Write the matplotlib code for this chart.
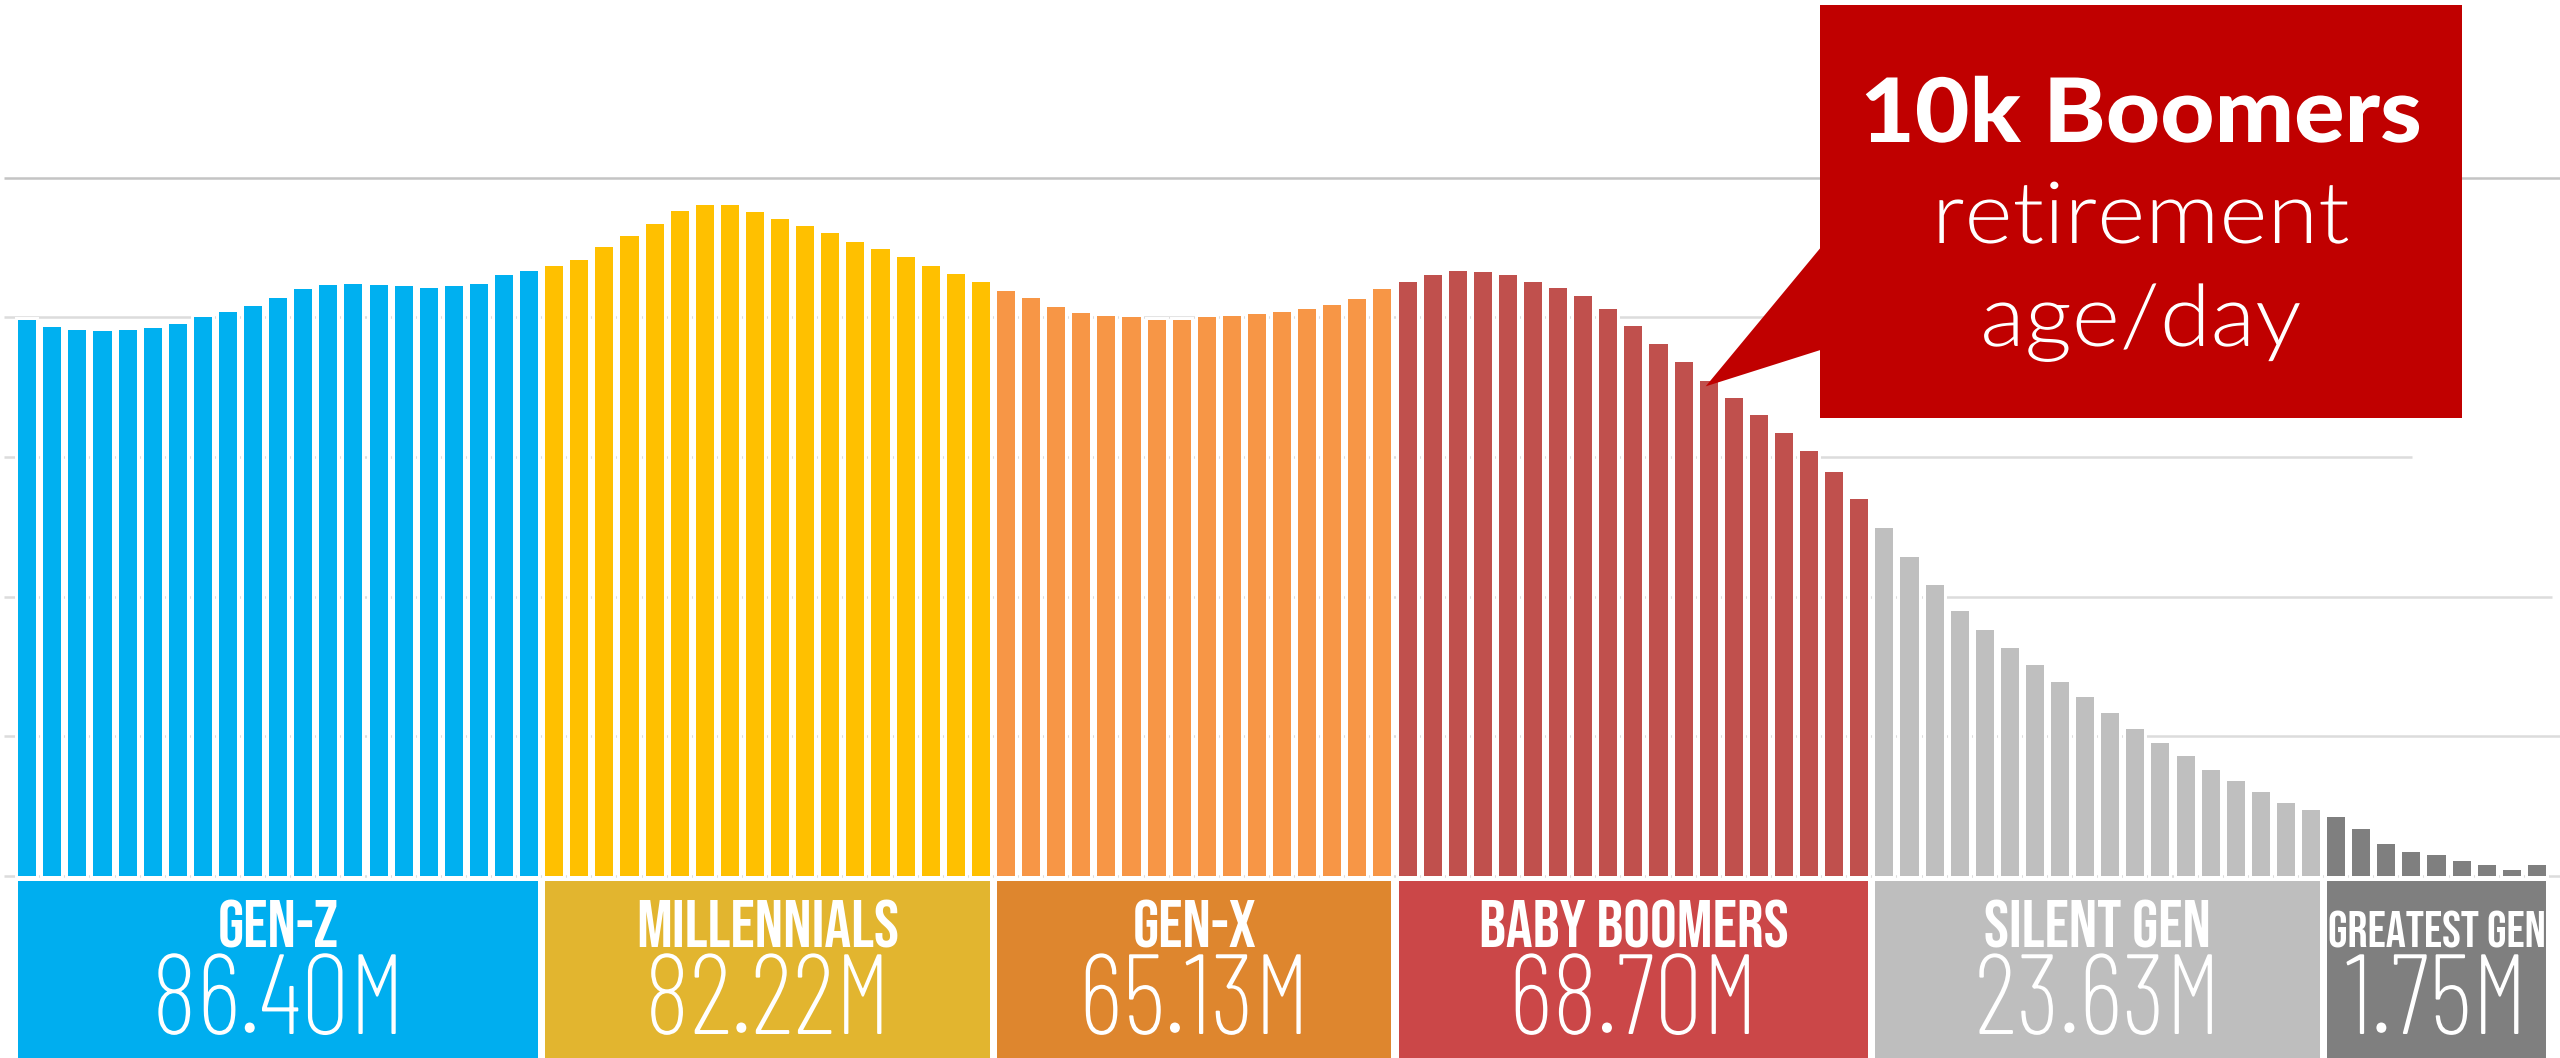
import matplotlib
matplotlib.use("Agg")
import matplotlib.pyplot as plt
from matplotlib.patches import Rectangle, Polygon
from matplotlib.patheffects import AbstractPathEffect
from matplotlib.transforms import Affine2D

# US resident population by single year of age (millions), youngest first
gen_z = [3.98, 3.93, 3.91, 3.90, 3.91, 3.92, 3.95, 4.00, 4.04, 4.08, 4.14,
         4.20, 4.23, 4.24, 4.23, 4.22, 4.21, 4.22, 4.24, 4.30, 4.33]
millennials = [4.37, 4.41, 4.50, 4.58, 4.67, 4.76, 4.80, 4.80, 4.75, 4.70,
               4.65, 4.60, 4.54, 4.49, 4.43, 4.37, 4.31, 4.25]
gen_x = [4.19, 4.14, 4.07, 4.03, 4.01, 4.00, 3.98, 3.98, 4.00, 4.01, 4.02,
         4.04, 4.06, 4.09, 4.13, 4.20]
boomers = [4.25, 4.30, 4.33, 4.32, 4.30, 4.25, 4.21, 4.15, 4.06, 3.94, 3.81,
           3.68, 3.54, 3.42, 3.30, 3.17, 3.04, 2.89, 2.70]
silent = [2.49, 2.28, 2.08, 1.90, 1.76, 1.63, 1.51, 1.39, 1.28, 1.17, 1.05,
          0.95, 0.86, 0.76, 0.68, 0.60, 0.52, 0.47]
greatest = [0.42, 0.34, 0.23, 0.17, 0.15, 0.11, 0.08, 0.04, 0.08]

generations = ["GEN-Z", "MILLENNIALS", "GEN-X", "BABY BOOMERS", "SILENT GEN", "GREATEST GEN"]
totals = [86.40, 82.22, 65.13, 68.70, 23.63, 1.75]
series = [gen_z, millennials, gen_x, boomers, silent, greatest]
gridlines = [0, 1, 2, 3, 4, 5]

bar_colors = ["#00B0F0", "#FFC000", "#F79646", "#C0504D", "#BFBFBF", "#7F7F7F"]
box_colors = ["#00AEEF", "#E2B52F", "#DE862E", "#CB4748", "#BEBEBE", "#7F7F7F"]
callout_red = "#C00000"

W, H, DPI = 2560, 1058, 100
X0_PX, PITCH_PX = 27.2, 25.097      # centre of first bar, bar spacing
BASE_PX, UNIT_PX = 876.0, 139.7     # baseline row, pixels per million


def dx(px):
    return (px - X0_PX) / PITCH_PX


def dy(py):
    return (BASE_PX - py) / UNIT_PX


class Condense(AbstractPathEffect):
    """Rescale glyphs horizontally about the centre of the string."""

    def __init__(self, sx):
        super().__init__()
        self.sx = sx

    def draw_path(self, renderer, gc, tpath, affine, rgbFace=None):
        ext = tpath.get_extents()
        cx = 0.5 * (ext.x0 + ext.x1)
        t = Affine2D().translate(-cx, 0).scale(self.sx, 1).translate(cx, 0) + affine
        renderer.draw_path(gc, tpath, t, rgbFace)


fig = plt.figure(figsize=(W / DPI, H / DPI), dpi=DPI)
ax = fig.add_axes([0, 0, 1, 1])
ax.set_xlim(dx(0), dx(W))
ax.set_ylim(dy(H), dy(0))
ax.axis("off")

# horizontal guides
grid_right = {0: 2560, 1: 2560, 2: 2552, 3: 2412, 4: 2400, 5: 2560}
for g in gridlines:
    ax.plot([dx(4), dx(grid_right[g])], [g, g],
            color="#C4C4C4" if g == 5 else "#DCDCDC", lw=1.8,
            solid_capstyle="butt", zorder=1)

# bars, each with a thin white halo that knocks out the guides behind it
BAR_W = 0.72
start = 0
spans = []
for vals, col in zip(series, bar_colors):
    xs = list(range(start, start + len(vals)))
    ax.bar(xs, vals, width=BAR_W, color="white", edgecolor="white",
           linewidth=4.3, zorder=2)
    ax.bar(xs, vals, width=BAR_W, color=col, linewidth=0, zorder=3)
    spans.append((xs[0], xs[-1]))
    start += len(vals)

# generation label blocks
box_top = dy(881)
for (i0, i1), name, tot, col in zip(spans, generations, totals, box_colors):
    left = i0 - BAR_W / 2
    right = i1 + BAR_W / 2
    ax.add_patch(Rectangle((left, dy(H + 20)), right - left, box_top - dy(H + 20),
                           facecolor=col, edgecolor="none", zorder=3))
    cx = 0.5 * (left + right)
    small = name == "GREATEST GEN"
    ax.text(cx, dy(947), name, ha="center", va="baseline", color="white",
            family=["Bebas Neue", "Roboto Condensed", "DejaVu Sans"],
            fontsize=36 if small else 48, zorder=4)
    ax.text(cx, dy(1034), f"{tot:.2f}M", ha="center", va="baseline", color="white",
            family=["Barlow Condensed", "Roboto Condensed", "DejaVu Sans"],
            fontweight=275, fontsize=82, zorder=4,
            path_effects=[Condense(0.96)])

# callout pointing at the Boomers now reaching retirement age
all_vals = [v for s in series for v in s]
target = 67
tip = (target - 0.12, all_vals[target] - 0.035)
ax.add_patch(Rectangle((dx(1820), dy(417.7)), dx(2462) - dx(1820), dy(5) - dy(417.7),
                       facecolor=callout_red, edgecolor="none", zorder=5))
ax.add_patch(Polygon([(dx(1822), dy(246)), tip, (dx(1822), dy(349.5))],
                     closed=True, facecolor=callout_red, edgecolor="none", zorder=5))
ccx = dx(2141)
ax.text(ccx, dy(142), "10k Boomers", ha="center", va="baseline", color="white",
        family=["Lato", "DejaVu Sans"], fontweight=900, fontsize=64, zorder=6,
        path_effects=[Condense(1.06)])
ax.text(ccx, dy(243), "retirement", ha="center", va="baseline", color="white",
        family=["Lato", "DejaVu Sans"], fontweight=300, fontsize=62, zorder=6,
        path_effects=[Condense(1.07)])
ax.text(ccx, dy(346), "age/day", ha="center", va="baseline", color="white",
        family=["Lato", "DejaVu Sans"], fontweight=300, fontsize=62, zorder=6,
        path_effects=[Condense(1.07)])

fig.savefig("out.png", dpi=DPI, facecolor="white")
